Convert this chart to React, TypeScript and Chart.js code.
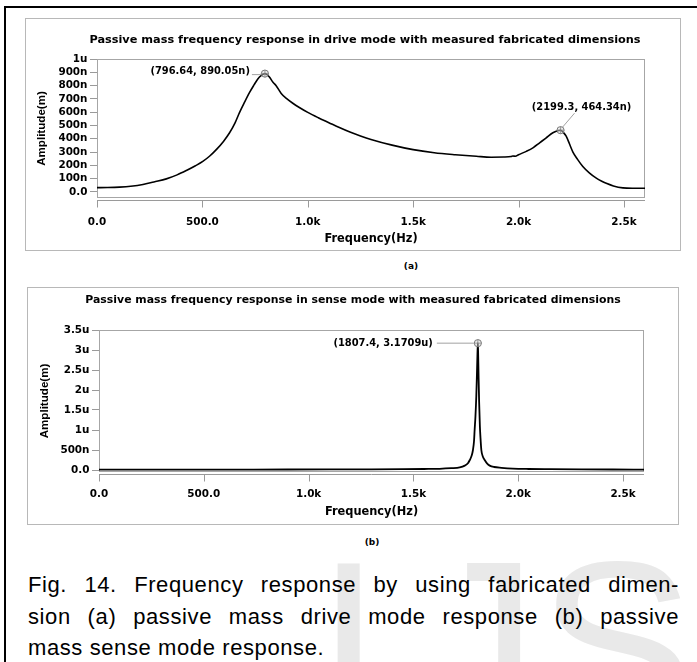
import React, { useEffect, useRef } from 'react';
import { Chart, registerables } from 'chart.js';

Chart.register(...registerables);

// ---------- data ----------
const xTickValues = [0, 500, 1000, 1500, 2000, 2500];
const xTickLabels = ['0.0', '500.0', '1.0k', '1.5k', '2.0k', '2.5k'];

// drive mode (amplitude in nm)
const driveFreq = [0, 50, 107, 160, 218, 270, 329, 380, 424, 465, 502, 535, 566, 600, 629, 655, 676, 700, 724, 745, 763, 780, 796.64, 805, 819, 835, 850, 874, 900, 929, 960, 1000, 1050, 1100, 1150, 1200, 1250, 1300, 1400, 1500, 1600, 1700, 1800, 1870, 1930, 1965, 1973, 1985, 2000, 2037, 2070, 2100, 2130, 2163, 2185, 2199.3, 2212, 2226, 2242, 2258, 2280, 2305, 2337, 2369, 2395, 2416, 2450, 2495, 2540, 2600];
const driveAmp = [32, 33, 36, 42, 55, 75, 98, 128, 161, 195, 229, 270, 318, 380, 445, 520, 597, 675, 749, 805, 850, 876, 890.05, 885, 862, 825, 799, 741, 702, 667, 635, 598, 558, 521, 484, 450, 421, 395, 352, 318, 295, 280, 268, 261, 262, 266, 270, 268, 280, 305, 333, 369, 405, 445, 460, 464.34, 448, 419, 360, 300, 245, 191, 141, 103, 80, 65, 45, 30, 27, 27];
const driveYTickValues = [0, 100, 200, 300, 400, 500, 600, 700, 800, 900, 1000];
const driveYTickLabels = ['0.0', '100n', '200n', '300n', '400n', '500n', '600n', '700n', '800n', '900n', '1u'];
const driveMarkFreq = [796.64, 2199.3];
const driveMarkAmp = [890.05, 464.34];
const driveMarkText = ['(796.64, 890.05n)', '(2199.3, 464.34n)'];

// sense mode (amplitude in um)
const senseFreq = [0, 300, 600, 900, 1100, 1300, 1450, 1550, 1625, 1680, 1721, 1745, 1760, 1769, 1778, 1784, 1789, 1792, 1796, 1800, 1803, 1805.5, 1807.4, 1809, 1811, 1813.5, 1817, 1820, 1824, 1831, 1840, 1852, 1864, 1885, 1920, 1974, 2050, 2150, 2300, 2450, 2600];
const senseAmp = [0.008, 0.009, 0.01, 0.012, 0.014, 0.017, 0.021, 0.025, 0.03, 0.045, 0.065, 0.11, 0.17, 0.25, 0.36, 0.5, 0.72, 1.0, 1.35, 1.85, 2.4, 2.9, 3.1709, 2.85, 2.3, 1.7, 1.1, 0.8, 0.5, 0.34, 0.25, 0.16, 0.11, 0.075, 0.055, 0.035, 0.025, 0.02, 0.015, 0.012, 0.01];
const senseYTickValues = [0, 0.5, 1, 1.5, 2, 2.5, 3, 3.5];
const senseYTickLabels = ['0.0', '500n', '1u', '1.5u', '2u', '2.5u', '3u', '3.5u'];
const senseMarkFreq = [1807.4];
const senseMarkAmp = [3.1709];
const senseMarkText = ['(1807.4, 3.1709u)'];

const driveTitle = 'Passive mass frequency response in drive mode with measured fabricated dimensions';
const senseTitle = 'Passive mass frequency response in sense mode with measured fabricated dimensions';

// ---------- layout / style ----------
type Spec = {
  left: number; top: number; w: number; h: number;
  padTop: number; padRight: number; yWidth: number; xHeight: number;
  yMin: number; yMax: number;
  freq: number[]; amp: number[];
  yTickValues: number[]; yTickLabels: string[];
  markFreq: number[]; markAmp: number[]; markText: string[];
  markLayout: [CanvasTextAlign, number, number, number, number, number, number][];
  title: string; titleX: number; titleY: number; titleSize: number;
  xTickPad: number; xTitlePad: number; yTitlePad: number; lineWidth: number;
};

const driveSpec: Spec = {
  left: 26, top: 19, w: 653, h: 230,
  padTop: 40, padRight: 34, yWidth: 71, xHeight: 51,
  yMin: -46, yMax: 1000,
  freq: driveFreq, amp: driveAmp,
  yTickValues: driveYTickValues, yTickLabels: driveYTickLabels,
  markFreq: driveMarkFreq, markAmp: driveMarkAmp, markText: driveMarkText,
  markLayout: [
    ['right', -15, -2, -13, 1, -4, 1],
    ['center', 21, -23, 2, -3, 14, -17],
  ],
  title: driveTitle, titleX: 339, titleY: 21, titleSize: 11.3,
  xTickPad: 10, xTitlePad: 3, yTitlePad: 8.7, lineWidth: 1.6,
};

const senseSpec: Spec = {
  left: 28, top: 288, w: 650, h: 236,
  padTop: 42, padRight: 34, yWidth: 71, xHeight: 52,
  yMin: -0.05, yMax: 3.5,
  freq: senseFreq, amp: senseAmp,
  yTickValues: senseYTickValues, yTickLabels: senseYTickLabels,
  markFreq: senseMarkFreq, markAmp: senseMarkAmp, markText: senseMarkText,
  markLayout: [
    ['right', -45, 0, -41, 0, -4, 0],
  ],
  title: senseTitle, titleX: 325, titleY: 12, titleSize: 10.9,
  xTickPad: 8, xTitlePad: 5.4, yTitlePad: 10, lineWidth: 1.8,
};

const BOLD_SANS = 'DejaVu Sans';

function decorPlugin(spec: Spec) {
  return {
    id: 'decor',
    beforeDatasetsDraw(chart: any) {
      const { ctx, chartArea: a } = chart;
      const xs = chart.scales.x;
      ctx.save();
      ctx.strokeStyle = '#a6a6a6';
      ctx.lineWidth = 1;
      ctx.strokeRect(Math.round(a.left) + 0.5, Math.round(a.top) + 0.5, Math.round(a.right - a.left) - 1, Math.round(a.bottom - a.top) - 1);
      const yAxis = Math.round(a.bottom) + 2.5;
      ctx.strokeStyle = '#9a9a9a';
      ctx.beginPath();
      ctx.moveTo(a.left, yAxis);
      ctx.lineTo(a.right, yAxis);
      for (const v of xTickValues) {
        const px = Math.round(xs.getPixelForValue(v)) + 0.5;
        ctx.moveTo(px, yAxis);
        ctx.lineTo(px, yAxis + 7);
      }
      ctx.stroke();
      ctx.restore();
    },
    afterDraw(chart: any) {
      const { ctx } = chart;
      const xs = chart.scales.x;
      const ys = chart.scales.y;
      ctx.save();
      ctx.fillStyle = '#000';
      ctx.font = `bold ${spec.titleSize}px "${BOLD_SANS}"`;
      ctx.textAlign = 'center';
      ctx.textBaseline = 'middle';
      ctx.fillText(spec.title, spec.titleX, spec.titleY);
      spec.markFreq.forEach((f, i) => {
        const px = xs.getPixelForValue(f);
        const py = ys.getPixelForValue(spec.markAmp[i]);
        const [align, dx, dy, lx1, ly1, lx2, ly2] = spec.markLayout[i];
        ctx.strokeStyle = '#8a8a8a';
        ctx.lineWidth = 0.8;
        ctx.beginPath();
        ctx.moveTo(px + lx1, py + ly1);
        ctx.lineTo(px + lx2, py + ly2);
        ctx.stroke();
        ctx.fillStyle = 'rgba(210,210,210,0.45)';
        ctx.strokeStyle = '#7a7a7a';
        ctx.lineWidth = 1;
        ctx.beginPath();
        ctx.arc(px, py, 3.6, 0, Math.PI * 2);
        ctx.fill();
        ctx.stroke();
        ctx.lineWidth = 0.7;
        ctx.beginPath();
        ctx.moveTo(px - 3.6, py); ctx.lineTo(px + 3.6, py);
        ctx.moveTo(px, py - 3.6); ctx.lineTo(px, py + 3.6);
        ctx.stroke();
        ctx.fillStyle = '#000';
        ctx.font = `bold 9.9px "${BOLD_SANS}"`;
        ctx.textAlign = align;
        ctx.textBaseline = 'middle';
        ctx.fillText(spec.markText[i], px + dx, py + dy);
      });
      ctx.restore();
    },
  };
}

function FreqChart({ spec }: { spec: Spec }) {
  const ref = useRef<HTMLCanvasElement>(null);
  useEffect(() => {
    const canvas = ref.current!;
    const tickFont = { family: BOLD_SANS, weight: 'bold' as const, size: 10.4, lineHeight: 1.2 };
    const chart = new Chart(canvas, {
      type: 'line',
      data: {
        datasets: [{
          data: spec.freq.map((f, i) => ({ x: f, y: spec.amp[i] })),
          borderColor: '#000',
          borderWidth: spec.lineWidth,
          pointRadius: 0,
          cubicInterpolationMode: 'monotone',
          fill: false,
        }],
      },
      options: {
        animation: false,
        responsive: false,
        devicePixelRatio: 1,
        events: [],
        layout: { padding: { left: 0, top: spec.padTop, right: spec.padRight, bottom: 0 } },
        plugins: { legend: { display: false }, tooltip: { enabled: false }, title: { display: false } },
        scales: {
          x: {
            type: 'linear', min: 0, max: 2600,
            afterFit: (s: any) => { s.height = spec.xHeight; },
            afterBuildTicks: (s: any) => { s.ticks = xTickValues.map((v) => ({ value: v })); },
            ticks: {
              callback: (_v: any, i: number) => xTickLabels[i],
              font: tickFont, color: '#000', padding: spec.xTickPad, maxRotation: 0, autoSkip: false,
            },
            grid: { display: false },
            border: { display: false },
            title: {
              display: true, text: 'Frequency(Hz)', color: '#000',
              font: { family: BOLD_SANS, weight: 'bold', size: 11.4, lineHeight: 1.2 },
              padding: { top: 0, bottom: spec.xTitlePad },
            },
          },
          y: {
            type: 'linear', min: spec.yMin, max: spec.yMax,
            afterFit: (s: any) => { s.width = spec.yWidth; },
            afterBuildTicks: (s: any) => { s.ticks = spec.yTickValues.map((v) => ({ value: v })); },
            ticks: {
              callback: (_v: any, i: number) => spec.yTickLabels[i],
              font: tickFont, color: '#000', padding: 2.5, autoSkip: false,
            },
            grid: { display: true, drawOnChartArea: false, drawTicks: true, tickLength: 7, color: '#9a9a9a', lineWidth: 1 },
            border: { display: false },
            title: {
              display: true, text: 'Amplitude(m)', color: '#000',
              font: { family: 'Liberation Sans', weight: 'bold', size: 11.6, lineHeight: 1.2 },
              padding: { top: spec.yTitlePad, bottom: 0 },
            },
          },
        },
      },
      plugins: [decorPlugin(spec)],
    } as any);
    return () => chart.destroy();
  }, [spec]);
  return (
    <canvas
      ref={ref}
      width={spec.w}
      height={spec.h}
      style={{ position: 'absolute', left: spec.left, top: spec.top, width: spec.w, height: spec.h }}
    />
  );
}

const captionLines = [
  'Fig. 14. Frequency response by using fabricated dimen-',
  'sion (a) passive mass drive mode response (b) passive',
  'mass sense mode response.',
];

export default function App() {
  const captionStyle = (i: number): React.CSSProperties => ({
    position: 'absolute', left: 28, top: 569 + i * 31.5, width: 651, height: 32,
    lineHeight: '32px', fontSize: 22, fontFamily: '"Liberation Sans", Arial, sans-serif',
    letterSpacing: '0.6px', color: '#000',
    textAlign: i < 2 ? 'justify' : 'left', textAlignLast: i < 2 ? 'justify' : 'left',
    whiteSpace: 'normal',
  } as React.CSSProperties);
  const wm: React.CSSProperties = {
    position: 'absolute', top: 527, fontSize: 235, lineHeight: '235px',
    fontFamily: '"Liberation Sans", Arial, sans-serif', color: '#e9e9e9',
  };
  return (
    <div style={{ position: 'fixed', left: 0, top: 0, width: 697, height: 662, overflow: 'hidden', background: '#fff' }}>
      <div style={{ position: 'absolute', left: 4, top: 6, width: 800, height: 800, borderLeft: '2px solid #000', borderTop: '2px solid #000' }} />
      <div style={{ ...wm, left: 316 }}>I</div>
      <div style={{ ...wm, left: 420 }}>J</div>
      <div style={{ ...wm, left: 538 }}>S</div>
      <div style={{ position: 'absolute', left: 25, top: 18, width: 654, height: 231, border: '1px solid #b8b8b8' }} />
      <div style={{ position: 'absolute', left: 27, top: 287, width: 650, height: 236, border: '1px solid #b8b8b8' }} />
      <FreqChart spec={driveSpec} />
      <FreqChart spec={senseSpec} />
      <div style={{ position: 'absolute', left: 391, top: 261, width: 40, textAlign: 'center', font: `bold 9px "${BOLD_SANS}"`, color: '#000' }}>(a)</div>
      <div style={{ position: 'absolute', left: 352, top: 537, width: 40, textAlign: 'center', font: `bold 9px "${BOLD_SANS}"`, color: '#000' }}>(b)</div>
      {captionLines.map((t, i) => (
        <div key={i} style={captionStyle(i)}>{t}</div>
      ))}
    </div>
  );
}
